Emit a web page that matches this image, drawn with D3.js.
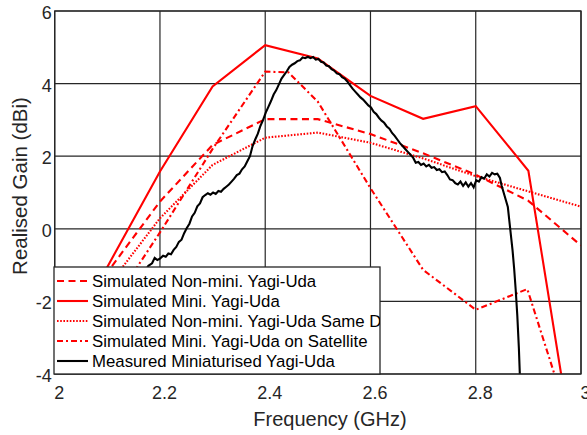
<!DOCTYPE html>
<html><head><meta charset="utf-8">
<script src="https://cdn.jsdelivr.net/npm/d3@7"></script>
<style>body{margin:0;background:#fff;} svg{display:block;font-family:"Liberation Sans",Arial,sans-serif;}</style>
</head><body><div id="chart"></div>
<script>
const xTicks = [2, 2.2, 2.4, 2.6, 2.8, 3];
const yTicks = [-4, -2, 0, 2, 4, 6];
const xTickLabels = ["2", "2.2", "2.4", "2.6", "2.8", "3"];
const yTickLabels = ["-4", "-2", "0", "2", "4", "6"];

const simFreq = [2.0, 2.1, 2.2, 2.3, 2.4, 2.5, 2.6, 2.7, 2.8, 2.9, 3.0];
const nonMiniGain = [-3.4, -1.2, 0.75, 2.31, 3.02, 3.02, 2.61, 2.08, 1.49, 0.77, -0.46];
const miniGain = [-4.5, -1.05, 1.58, 3.92, 5.06, 4.69, 3.66, 3.03, 3.38, 1.60, -7.4];
const nonMiniSameDGain = [-3.6, -1.6, 0.29, 1.76, 2.51, 2.65, 2.37, 1.94, 1.45, 1.03, 0.61];
const satFreq = [2.0, 2.1, 2.2, 2.3, 2.4, 2.444, 2.5, 2.6, 2.7, 2.8, 2.898, 3.0];
const satGain = [-4.8, -2.3, -0.1, 2.2, 4.33, 4.31, 3.5, 1.12, -1.13, -2.23, -1.66, -6.3];

const measFreq = [2.000,2.050,2.100,2.150,2.170,2.178,2.185,2.190,2.195,2.200,2.206,2.211,2.216,2.221,2.226,2.231,2.236,2.241,2.246,2.251,2.256,2.261,2.266,2.271,2.276,2.281,2.286,2.291,2.296,2.301,2.306,2.311,2.316,2.321,2.326,2.331,2.336,2.341,2.346,2.351,2.356,2.361,2.366,2.371,2.376,2.381,2.386,2.391,2.396,2.401,2.406,2.411,2.416,2.421,2.426,2.431,2.436,2.441,2.446,2.451,2.456,2.461,2.466,2.471,2.476,2.481,2.486,2.491,2.496,2.501,2.506,2.511,2.516,2.521,2.526,2.531,2.536,2.541,2.546,2.551,2.556,2.561,2.566,2.571,2.576,2.581,2.586,2.591,2.596,2.601,2.606,2.611,2.616,2.621,2.626,2.631,2.636,2.641,2.646,2.651,2.656,2.661,2.666,2.671,2.676,2.681,2.686,2.691,2.696,2.701,2.706,2.711,2.716,2.721,2.726,2.731,2.736,2.741,2.746,2.751,2.756,2.761,2.766,2.771,2.776,2.781,2.786,2.791,2.796,2.801,2.806,2.811,2.816,2.821,2.826,2.831,2.836,2.841,2.846,2.849,2.853,2.857,2.861,2.864,2.867,2.870,2.873,2.876,2.879,2.882,2.884,2.886];
const measGain = [-3.9,-3.4,-2.6,-1.7,-1.2,-1.02,-0.95,-0.80,-0.86,-0.82,-0.74,-0.77,-0.68,-0.70,-0.58,-0.50,-0.36,-0.30,-0.12,0.02,0.14,0.34,0.44,0.62,0.70,0.87,0.93,0.98,0.94,1.00,0.96,1.04,1.02,1.10,1.16,1.22,1.30,1.38,1.48,1.52,1.64,1.72,1.86,2.00,2.28,2.46,2.62,2.84,3.00,3.20,3.36,3.52,3.70,3.82,3.98,4.14,4.24,4.34,4.46,4.52,4.56,4.62,4.64,4.72,4.70,4.74,4.70,4.73,4.66,4.68,4.60,4.58,4.50,4.48,4.40,4.36,4.28,4.26,4.18,4.14,4.06,3.96,3.86,3.78,3.70,3.62,3.56,3.48,3.40,3.34,3.22,3.16,3.06,2.98,2.92,2.82,2.76,2.64,2.56,2.46,2.36,2.28,2.20,2.12,2.04,1.96,1.82,1.84,1.76,1.80,1.72,1.76,1.68,1.70,1.62,1.64,1.56,1.58,1.48,1.36,1.34,1.26,1.22,1.30,1.18,1.28,1.16,1.26,1.14,1.34,1.30,1.42,1.38,1.50,1.44,1.54,1.50,1.52,1.40,1.20,1.00,0.80,0.60,0.20,-0.20,-0.60,-1.10,-1.70,-2.40,-3.30,-4.10,-5.0];

const legendLabels = ["Simulated Non-mini. Yagi-Uda", "Simulated Mini. Yagi-Uda", "Simulated Non-mini. Yagi-Uda Same D", "Simulated Mini. Yagi-Uda on Satellite", "Measured Miniaturised Yagi-Uda"];

const W = 587, H = 435;
const pLeft = 54.7, pRight = 581, pTop = 11, pBottom = 374;
const x = d3.scaleLinear().domain([2, 3]).range([pLeft, pRight]);
const y = d3.scaleLinear().domain([-4, 6]).range([pBottom, pTop]);

const svg = d3.select("#chart").append("svg").attr("width", W).attr("height", H);
const defs = svg.append("defs");
defs.append("clipPath").attr("id", "plotclip").append("rect")
  .attr("x", pLeft).attr("y", pTop).attr("width", pRight - pLeft).attr("height", pBottom - pTop);

// grid
const grid = svg.append("g");
xTicks.forEach(t => grid.append("line").attr("x1", x(t)).attr("x2", x(t)).attr("y1", pTop).attr("y2", pBottom)
  .attr("stroke", "#262626").attr("stroke-width", 1.2));
yTicks.forEach(t => grid.append("line").attr("y1", y(t)).attr("y2", y(t)).attr("x1", pLeft).attr("x2", pRight)
  .attr("stroke", "#262626").attr("stroke-width", 1.2));

const tc = "#262626";
svg.append("g").attr("transform", `translate(0,${pBottom})`)
  .call(d3.axisBottom(x).tickValues(xTicks).tickFormat((d, i) => xTickLabels[i]).tickSize(0).tickPadding(12))
  .call(g => g.select(".domain").remove())
  .call(g => g.selectAll("text").attr("font-size", 18).attr("fill", tc).attr("font-family", "Liberation Sans, Arial, sans-serif").attr("dx", 4));
svg.append("g").attr("transform", `translate(${pLeft},0)`)
  .call(d3.axisLeft(y).tickValues(yTicks).tickFormat((d, i) => yTickLabels[i]).tickSize(0).tickPadding(3))
  .call(g => g.select(".domain").remove())
  .call(g => g.selectAll("text").attr("font-size", 18).attr("fill", tc).attr("font-family", "Liberation Sans, Arial, sans-serif").attr("dy", "0.42em"));

const plot = svg.append("g").attr("clip-path", "url(#plotclip)");
const line = d3.line().x(d => x(d[0])).y(d => y(d[1]));
const series = [
  {f: simFreq, v: nonMiniGain, color: "#ff0000", dash: "7,4.5"},
  {f: simFreq, v: miniGain, color: "#ff0000", dash: null},
  {f: simFreq, v: nonMiniSameDGain, color: "#ff0000", dash: "1.6,1.6"},
  {f: satFreq, v: satGain, color: "#ff0000", dash: "6,3,2,3"},
  {f: measFreq, v: measGain, color: "#000000", dash: null}
];
series.forEach(s => {
  plot.append("path").datum(s.f.map((f, i) => [f, s.v[i]]))
    .attr("d", line).attr("fill", "none").attr("stroke", s.color).attr("stroke-width", 2.1)
    .attr("stroke-dasharray", s.dash).attr("stroke-linejoin", "miter");
});

// axes box
svg.append("rect").attr("x", pLeft).attr("y", pTop).attr("width", pRight - pLeft).attr("height", pBottom - pTop)
  .attr("fill", "none").attr("stroke", "#262626").attr("stroke-width", 1.3);

// legend
const lx = 54, ly = 267, lw = 326, lh = pBottom - 267;
defs.append("clipPath").attr("id", "legclip").append("rect").attr("x", lx).attr("y", ly).attr("width", lw).attr("height", lh);
const leg = svg.append("g");
leg.append("rect").attr("x", lx).attr("y", ly).attr("width", lw).attr("height", lh)
  .attr("fill", "#fff").attr("stroke", "#262626").attr("stroke-width", 1.3);
const lg = leg.append("g").attr("clip-path", "url(#legclip)");
legendLabels.forEach((lab, i) => {
  const cy = 281 + i * 20;
  const s = series[i];
  lg.append("line").attr("x1", 57).attr("x2", 88).attr("y1", cy).attr("y2", cy)
    .attr("stroke", s.color).attr("stroke-width", 2.1).attr("stroke-dasharray", s.dash);
  lg.append("text").attr("x", 92).attr("y", cy).attr("dy", "0.36em").attr("font-size", 16.8)
    .attr("fill", "#000").text(lab);
});

// axis labels
svg.append("text").attr("x", 330).attr("y", 426).attr("text-anchor", "middle")
  .attr("font-size", 20).attr("fill", tc).text("Frequency (GHz)");
svg.append("text").attr("transform", `translate(27,186) rotate(-90)`).attr("text-anchor", "middle")
  .attr("font-size", 20.5).attr("fill", tc).text("Realised Gain (dBi)");
</script></body></html>
